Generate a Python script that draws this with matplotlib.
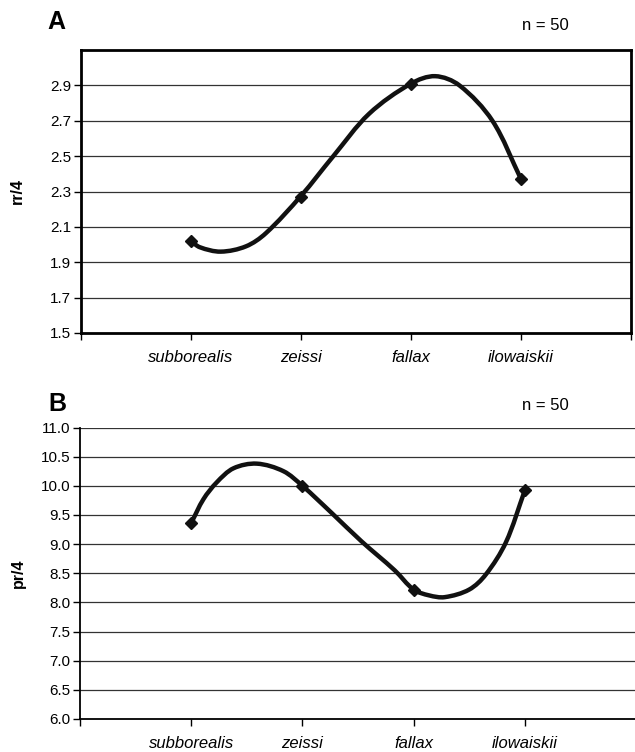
import numpy as np
import matplotlib
matplotlib.use("Agg")
import matplotlib.pyplot as plt
from matplotlib.path import Path
from matplotlib.patches import PathPatch

plt.rcParams['font.family'] = ['Liberation Sans', 'DejaVu Sans']

categories = ["subborealis", "zeissi", "fallax", "ilowaiskii"]
rr4 = [2.02, 2.27, 2.91, 2.37]
pr4 = [9.36, 10.0, 8.22, 9.92]

# smooth curve knots (category position, value)
curveA_x = [1.0, 1.08, 1.27, 1.50, 1.68, 2.0, 2.29, 2.62, 3.0, 3.22, 3.44, 3.74, 4.0]
curveA_y = [2.02, 1.985, 1.960, 1.990, 2.064, 2.275, 2.497, 2.74, 2.91, 2.952, 2.90, 2.70, 2.37]
curveB_x = [1.0, 1.11, 1.23, 1.38, 1.59, 1.83, 2.0, 2.26, 2.53, 2.83, 3.0, 3.14, 3.28, 3.5, 3.65, 3.83, 4.0]
curveB_y = [9.36, 9.77, 10.06, 10.30, 10.38, 10.25, 10.0, 9.54, 9.05, 8.55, 8.22, 8.12, 8.09, 8.22, 8.48, 9.03, 9.92]

yticksA = [1.5, 1.7, 1.9, 2.1, 2.3, 2.5, 2.7, 2.9]
yticksB = [6.0, 6.5, 7.0, 7.5, 8.0, 8.5, 9.0, 9.5, 10.0, 10.5, 11.0]


def smooth_path(ax, xs, ys):
    """Chord-length Catmull-Rom cubic Bezier through the knots, in display space."""
    pts = ax.transData.transform(np.column_stack([xs, ys]))
    n = len(pts)
    d = np.linalg.norm(np.diff(pts, axis=0), axis=1)
    tang = np.zeros_like(pts)
    for i in range(n):
        if i == 0:
            tang[i] = (pts[1] - pts[0]) / d[0]
        elif i == n - 1:
            tang[i] = (pts[-1] - pts[-2]) / d[-1]
        else:
            tang[i] = (pts[i + 1] - pts[i - 1]) / (d[i - 1] + d[i])
    verts = [pts[0]]
    codes = [Path.MOVETO]
    for i in range(n - 1):
        c1 = pts[i] + tang[i] * d[i] / 3.0
        c2 = pts[i + 1] - tang[i + 1] * d[i] / 3.0
        verts += [c1, c2, pts[i + 1]]
        codes += [Path.CURVE4] * 3
    return Path(verts, codes)


fig = plt.figure(figsize=(6.35, 7.52), dpi=100)

axA = fig.add_axes([81 / 635, 1 - 333 / 752, (631 - 81) / 635, (333 - 50) / 752])
axB = fig.add_axes([80 / 635, 1 - 719 / 752, (636 - 80) / 635, (719 - 427.5) / 752])

xpos = np.arange(1, len(categories) + 1)

for ax, vals, yt, ylim, ylab in [
    (axA, rr4, yticksA, (1.5, 3.1), "rr/4"),
    (axB, pr4, yticksB, (6.0, 11.0), "pr/4"),
]:
    ax.set_xlim(0, 5)
    ax.set_ylim(*ylim)
    ax.set_yticks(yt)
    ax.set_yticklabels([f"{v:.1f}" for v in yt], fontsize=11)
    ax.set_xticks(range(0, 6))
    ax.set_xticklabels([""] + categories + [""], fontsize=12, style="italic")
    for y in yt[1:]:
        ax.axhline(y, color="#333333", lw=0.9, zorder=1)
    ax.tick_params(axis="both", direction="out", length=5, width=1, color="black")
    ax.tick_params(axis="y", pad=2)
    ax.set_ylabel(ylab, fontsize=11.5, fontweight="bold")

# panel A frame
for s in axA.spines.values():
    s.set_linewidth(2.0)
    s.set_color("black")
axA.tick_params(axis="x", pad=7)
axA.yaxis.set_label_coords(-56 / 550, 0.5)

# panel B frame
axB.spines["top"].set_visible(False)
axB.spines["right"].set_visible(False)
axB.spines["left"].set_linewidth(1.3)
axB.spines["bottom"].set_linewidth(1.3)
axB.tick_params(axis="x", pad=7)
axB.yaxis.set_label_coords(-54 / 556, 0.5)

fig.canvas.draw()
for ax, vals, cx, cy in [(axA, rr4, curveA_x, curveA_y), (axB, pr4, curveB_x, curveB_y)]:
    path = smooth_path(ax, cx, cy)
    patch = PathPatch(path, facecolor="none", edgecolor="#111111", lw=3.2,
                      transform=None, zorder=3, capstyle="round", joinstyle="round")
    patch.set_clip_on(False)
    fig.add_artist(patch)
    ax.plot(xpos, vals, linestyle="none", marker="D", markersize=6.5,
            color="#111111", zorder=4, clip_on=False)

fig.text(56 / 635, 1 - 22 / 752, "A", fontsize=18, fontweight="bold", ha="center", va="center")
fig.text(545 / 635, 1 - 25 / 752, "n = 50", fontsize=12, ha="center", va="center")
fig.text(57 / 635, 1 - 404 / 752, "B", fontsize=18, fontweight="bold", ha="center", va="center")
fig.text(545 / 635, 1 - 405 / 752, "n = 50", fontsize=12, ha="center", va="center")

fig.savefig("out.png", dpi=100)
